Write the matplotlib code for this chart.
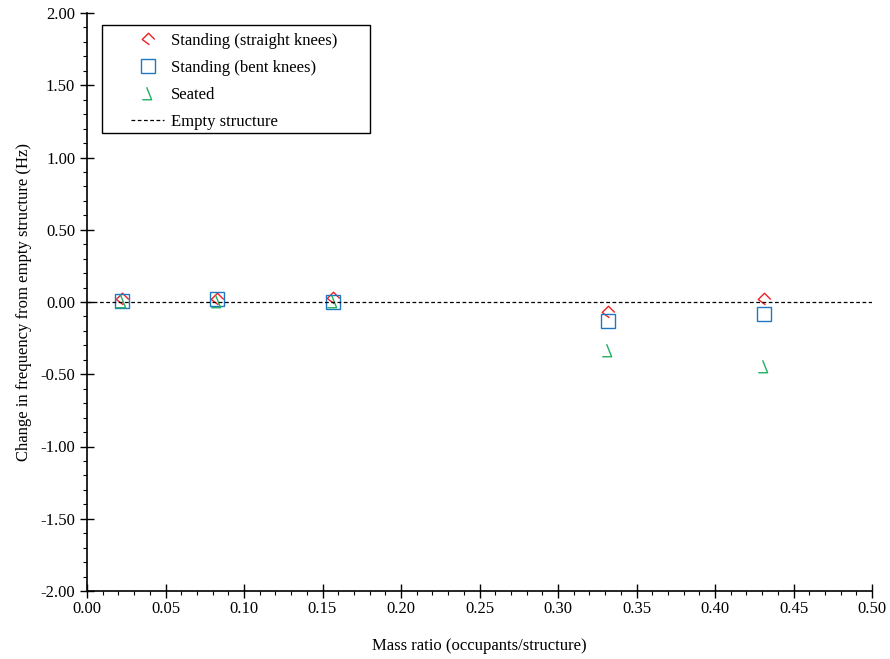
import numpy as np
import matplotlib.pyplot as plt
from matplotlib.path import Path
from matplotlib.patches import Rectangle
from matplotlib.ticker import MultipleLocator, FormatStrFormatter

plt.rcParams['font.family'] = ['Liberation Serif', 'DejaVu Serif']
plt.rcParams['font.size'] = 11

mass_ratio = [0.022, 0.083, 0.157, 0.332, 0.431]
straight = [0.02, 0.02, 0.03, -0.07, 0.02]
bent = [0.01, 0.02, 0.00, -0.13, -0.08]
seated = [0.01, 0.01, 0.01, -0.33, -0.44]

labels = ['Standing (straight knees)', 'Standing (bent knees)', 'Seated', 'Empty structure']

# open marker outlines, like the original
diamond_open = Path([(0.15, -0.85), (-1, 0), (0, 1), (1, 0)],
                    [Path.MOVETO, Path.LINETO, Path.LINETO, Path.LINETO])
tri_open = Path([(-0.3, 1), (0.5, -1), (-1, -1)],
                [Path.MOVETO, Path.LINETO, Path.LINETO])

W, H = 890, 659
fig = plt.figure(figsize=(W / 100, H / 100), dpi=100)
ax = fig.add_axes([87 / W, 1 - 591 / H, 785 / W, 578 / H])

ax.plot(mass_ratio, straight, linestyle='none', marker=diamond_open, ms=9,
        mfc='none', mec='#ee2020', mew=1.0, label=labels[0])
ax.plot(mass_ratio, bent, linestyle='none', marker='s', ms=10,
        mfc='none', mec='#1f77c4', mew=1.0, label=labels[1])
ax.plot(mass_ratio, seated, linestyle='none', marker=tri_open, ms=9,
        mfc='none', mec='#20b060', mew=1.0, label=labels[2])
ax.axhline(0, color='black', linestyle=(0, (3, 2)), lw=0.9, label=labels[3])

ax.set_xlim(0, 0.5)
ax.set_ylim(-2, 2)
ax.xaxis.set_major_locator(MultipleLocator(0.05))
ax.xaxis.set_minor_locator(MultipleLocator(0.01))
ax.yaxis.set_major_locator(MultipleLocator(0.5))
ax.yaxis.set_minor_locator(MultipleLocator(0.1))
ax.xaxis.set_major_formatter(FormatStrFormatter('%.2f'))
ax.yaxis.set_major_formatter(FormatStrFormatter('%.2f'))

ax.spines['top'].set_visible(False)
ax.spines['right'].set_visible(False)
ax.spines['left'].set_linewidth(1.2)
ax.spines['bottom'].set_linewidth(1.2)
ax.tick_params(which='major', direction='inout', length=10, width=1)
ax.tick_params(which='minor', direction='out', length=3, width=0.8)
ax.tick_params(axis='x', which='major', pad=2)
ax.tick_params(labelsize=12)

ax.set_xlabel('Mass ratio (occupants/structure)', fontsize=12, labelpad=15)
ax.set_ylabel('Change in frequency from empty structure (Hz)', fontsize=12, labelpad=6)

# legend without its own frame, box drawn separately (wider side padding)
leg = ax.legend(loc='upper left', bbox_to_anchor=(131 / W, 1 - 33 / H),
                bbox_transform=fig.transFigure, frameon=False, fontsize=12,
                handlelength=2.0, handletextpad=0.4, borderpad=0,
                borderaxespad=0, labelspacing=0.66)
fig.patches.append(Rectangle((102 / W, 1 - 133 / H), 268 / W, 108 / H,
                             transform=fig.transFigure, fill=False,
                             edgecolor='black', lw=1.0))

plt.savefig('out.png', dpi=100)
